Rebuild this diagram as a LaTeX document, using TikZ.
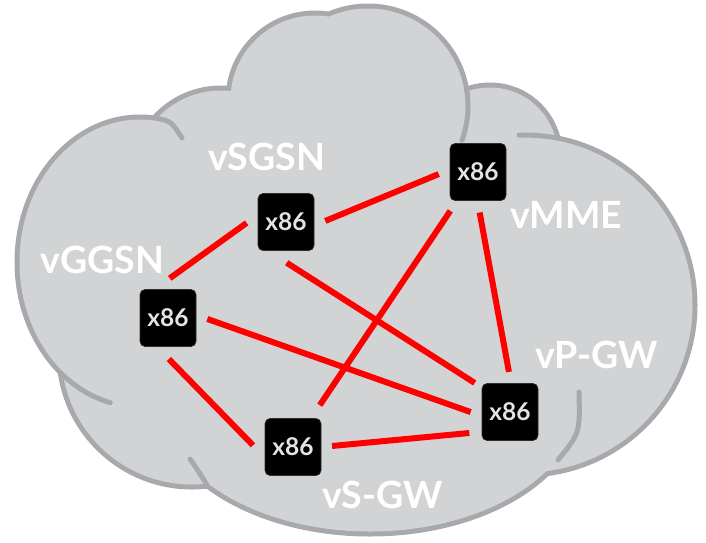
\documentclass[tikz,border=0pt]{standalone}
\usepackage{fontspec}
\setmainfont{Lato}
\definecolor{cloudfill}{RGB}{209,211,212}
\definecolor{cloudline}{RGB}{167,169,172}
\definecolor{chiptext}{RGB}{228,228,228}
\definecolor{chipedge}{RGB}{45,45,45}
\definecolor{linkred}{RGB}{255,0,0}

% all lobes of the cloud, each as its own path
\newcommand\cloudshapes[1]{%
  \path[#1] (315,100) circle[radius=84.5];
  \path[#1] (368,106) circle[radius=97.5];
  \path[#1] (490,155) circle[radius=67.5];
  \path[#1] (525,305) circle[radius=167.5];
  \path[#1] (370,400) ellipse[x radius=209.5, y radius=131.5];
  \path[#1] (192,354) circle[radius=130.5];
  \path[#1] (140,262) ellipse[x radius=120.5, y radius=142.5];
  \path[#1] (221,178) circle[radius=87.5];
}

\begin{document}
\begin{tikzpicture}[x=1pt,y=-1pt,
  chip/.style={fill=black, draw=chipedge, line width=0.6pt, rounded corners=5pt,
    minimum width=56pt, minimum height=57pt, inner sep=0pt, text=chiptext,
    font=\fontsize{24.5}{26}\selectfont\bfseries},
  vnf/.style={anchor=base west, text=white, inner sep=0pt,
    font=\fontsize{37.5}{40}\selectfont\bfseries},
  link/.style={draw=linkred, line width=6pt},
  fold/.style={draw=cloudline, line width=5pt, line cap=round}]

\useasboundingbox (0,0) rectangle (706,542);

% cloud: stroked lobes, then the interior filled again so only the rim stays
\cloudshapes{fill=cloudfill, draw=cloudline, line width=10pt}
\cloudshapes{fill=cloudfill}
\fill[cloudfill] (150,200) -- (250,140) -- (400,120) -- (530,180) -- (600,300)
  -- (560,420) -- (400,500) -- (220,460) -- (90,380) -- (70,280) -- cycle;

% short inner folds where lobes overlap
\draw[fold] (155,118) .. controls (171,121) .. (182,138);
\draw[fold] plot[domain=-10:20, samples=16, variable=\t]
  ({368+100*cos(\t)},{106+100*sin(\t)});
\draw[fold] plot[domain=-79:-92, samples=8, variable=\t]
  ({525+170*cos(\t)},{305+170*sin(\t)});
\draw[fold] plot[domain=130:104, samples=12, variable=\t]
  ({140+123*cos(\t)},{262+145*sin(\t)});
\draw[fold] (207,485) .. controls (197,469) .. (190,459);
\draw[fold] (558,460) .. controls (580,433) .. (579,392);

% x86 hosts
\node[chip] (sgsn) at (286,222) {x86};
\node[chip] (ggsn) at (168,318) {x86};
\node[chip] (mme)  at (478,172) {x86};
\node[chip] (pgw)  at (510,412) {x86};
\node[chip] (sgw)  at (293,447) {x86};

% full mesh of links
\draw[link, shorten <=18.7pt, shorten >=13.6pt] (ggsn.115) -- (sgsn.166);
\draw[link, shorten <=11.9pt, shorten >=11.9pt] (sgsn.353) -- (mme.175);
\draw[link, shorten <=22.2pt, shorten >=8.3pt]  (sgsn.238) -- (pgw.139);
\draw[link, shorten <=11.7pt, shorten >=11.7pt] (ggsn.6)   -- (pgw.188);
\draw[link, shorten <=17.1pt, shorten >=16.8pt] (ggsn.249) -- (sgw.200);
\draw[link, shorten <=15.7pt, shorten >=12.1pt] (sgw.58)   -- (mme.234);
\draw[link, shorten <=10.8pt, shorten >=12.4pt] (sgw.0)    -- (pgw.215);
\draw[link, shorten <=11.9pt, shorten >=11.5pt] (mme.269)  -- (pgw.88);

% function labels
\node[vnf] (lsgsn) at (208,170) {vSGSN};
\node[vnf] (lggsn) at (40,273)  {vGGSN};
\node[vnf] (lmme)  at (510,228) {vMME};
\node[vnf] (lpgw)  at (535,368) {vP-GW};
\node[vnf] (lsgw)  at (322,508) {vS-GW};
\end{tikzpicture}
\end{document}
